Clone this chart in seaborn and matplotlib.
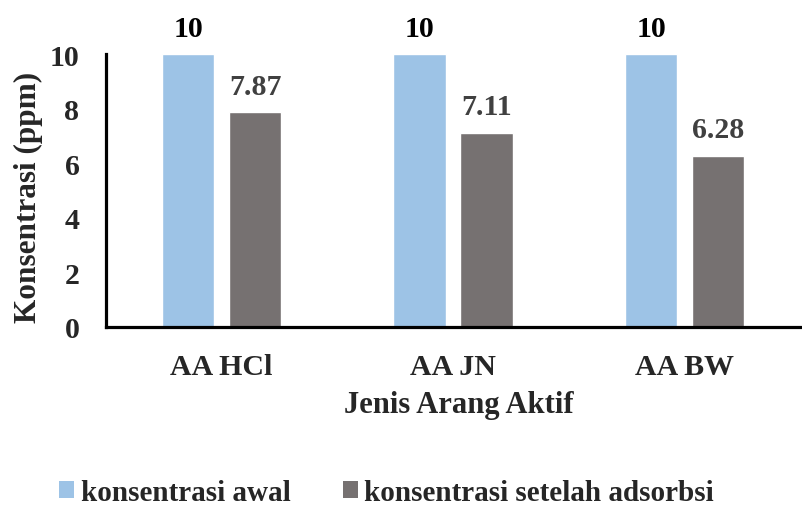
import matplotlib
matplotlib.use("Agg")
import matplotlib.pyplot as plt
import seaborn as sns
import pandas as pd
from matplotlib.patches import Patch

categories = ["AA HCl", "AA JN", "AA BW"]
awal = [10, 10, 10]
setelah = [7.87, 7.11, 6.28]
series_names = ["konsentrasi awal", "konsentrasi setelah adsorbsi"]
y_ticks = [0, 2, 4, 6, 8, 10]

df = pd.DataFrame({
    "Jenis": categories * 2,
    "Seri": [series_names[0]] * 3 + [series_names[1]] * 3,
    "Nilai": awal + setelah,
})

sns.set_theme(style="white")
FONT = "Liberation Serif"
plt.rcParams["font.family"] = FONT
plt.rcParams["font.weight"] = "bold"
FS = 21.5

colors = {series_names[0]: "#9DC3E6", series_names[1]: "#767171"}
label_colors = {series_names[0]: "#000000", series_names[1]: "#404040"}

fig = plt.figure(figsize=(8.02, 5.06), dpi=100)
ax = fig.add_axes([0.132, 0.352, 0.866, 0.539])

sns.barplot(data=df, x="Jenis", y="Nilai", hue="Seri", palette=colors,
            width=0.58, gap=0.217, ax=ax, legend=False, saturation=1)

for container, name in zip(ax.containers, series_names):
    labels = [f"{v:g}" for v in container.datavalues]
    ax.bar_label(container, labels=labels, padding=9, fontsize=FS,
                 fontweight="bold", family=FONT, color=label_colors[name])

ax.set_ylim(0, 10)
ax.set_xlim(-0.5, 2.5)
ax.set_yticks(y_ticks)
ax.set_yticklabels([str(t) for t in y_ticks], fontsize=FS, fontweight="bold", family=FONT)
ax.set_xticks([0, 1, 2])
ax.set_xticklabels(categories, fontsize=FS, fontweight="bold", family=FONT)
ax.tick_params(axis="x", length=0, pad=19)
ax.set_xticks([0.5, 1.5, 2.5], minor=True)
ax.tick_params(axis="x", which="minor", length=6, width=2.3, direction="out", color="black")
ax.tick_params(axis="y", length=6, width=2.3, direction="out", color="black", pad=13)

for side in ["top", "right"]:
    ax.spines[side].set_visible(False)
for side in ["left", "bottom"]:
    ax.spines[side].set_linewidth(2.3)
    ax.spines[side].set_color("black")

ax.set_ylabel("Konsentrasi (ppm)", fontsize=22.5, fontweight="bold", family=FONT)
ax.yaxis.set_label_coords(-0.09, 0.48)
ax.set_xlabel("Jenis Arang Aktif", fontsize=22, fontweight="bold", family=FONT)
ax.xaxis.set_label_coords(0.508, -0.232)

handles = [Patch(facecolor=colors[n], edgecolor="none") for n in series_names]
fig.legend(handles, series_names, loc="center", bbox_to_anchor=(0.482, 0.025),
           ncol=2, frameon=False, borderpad=0,
           prop={"family": FONT, "weight": "bold", "size": 21},
           handlelength=0.52, handleheight=0.52, handletextpad=0.22, columnspacing=1.8)

fig.savefig("out.png", dpi=100)
